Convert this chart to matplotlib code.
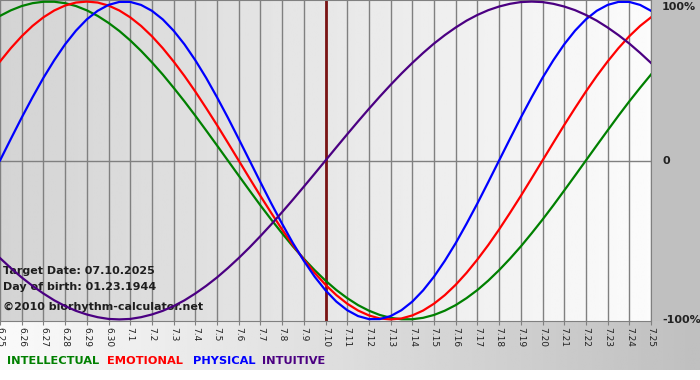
import numpy as np
import matplotlib
matplotlib.use("Agg")
import matplotlib.pyplot as plt
from matplotlib.patches import Rectangle

# date ticks 6.25 .. 7.25
days = list(range(31))
date_labels = ["6.25", "6.26", "6.27", "6.28", "6.29", "6.30"] + \
    ["7.%d" % d for d in range(1, 26)]

# curve values every half day (-1 .. 1)
half_days = np.arange(0, 30.5, 0.5)
physical = [0.0, 0.136, 0.270, 0.398, 0.520, 0.631, 0.731, 0.817, 0.888, 0.942,
            0.979, 0.998, 0.998, 0.979, 0.942, 0.888, 0.817, 0.731, 0.631, 0.520,
            0.398, 0.270, 0.136, 0.0, -0.136, -0.270, -0.398, -0.520, -0.631, -0.731,
            -0.817, -0.888, -0.942, -0.979, -0.998, -0.998, -0.979, -0.942, -0.888, -0.817,
            -0.731, -0.631, -0.520, -0.398, -0.270, -0.136, 0.0, 0.136, 0.270, 0.398,
            0.520, 0.631, 0.731, 0.817, 0.888, 0.942, 0.979, 0.998, 0.998, 0.979, 0.942]
emotional = [0.623, 0.707, 0.782, 0.847, 0.901, 0.944, 0.975, 0.994, 1.0, 0.994,
             0.975, 0.944, 0.901, 0.847, 0.782, 0.707, 0.623, 0.532, 0.434, 0.330,
             0.223, 0.112, 0.0, -0.112, -0.223, -0.330, -0.434, -0.532, -0.623, -0.707,
             -0.782, -0.847, -0.901, -0.944, -0.975, -0.994, -1.0, -0.994, -0.975, -0.944,
             -0.901, -0.847, -0.782, -0.707, -0.623, -0.532, -0.434, -0.330, -0.223, -0.112,
             0.0, 0.112, 0.223, 0.330, 0.434, 0.532, 0.623, 0.707, 0.782, 0.847, 0.901]
intellectual = [0.910, 0.945, 0.972, 0.990, 0.999, 0.999, 0.990, 0.972, 0.945, 0.910,
                0.866, 0.815, 0.756, 0.690, 0.618, 0.541, 0.458, 0.372, 0.282, 0.189,
                0.095, 0.0, -0.095, -0.189, -0.282, -0.372, -0.458, -0.541, -0.618, -0.690,
                -0.756, -0.815, -0.866, -0.910, -0.945, -0.972, -0.990, -0.999, -0.999, -0.990,
                -0.972, -0.945, -0.910, -0.866, -0.815, -0.756, -0.690, -0.618, -0.541, -0.458,
                -0.372, -0.282, -0.189, -0.095, 0.0, 0.095, 0.189, 0.282, 0.372, 0.458, 0.541]
intuitive = [-0.614, -0.677, -0.736, -0.789, -0.837, -0.880, -0.916, -0.946, -0.969, -0.986,
             -0.997, -1.0, -0.997, -0.986, -0.969, -0.946, -0.916, -0.880, -0.837, -0.789,
             -0.736, -0.677, -0.614, -0.547, -0.476, -0.402, -0.325, -0.246, -0.165, -0.083,
             0.0, 0.083, 0.165, 0.246, 0.325, 0.402, 0.476, 0.547, 0.614, 0.677,
             0.736, 0.789, 0.837, 0.880, 0.916, 0.946, 0.969, 0.986, 0.997, 1.0,
             0.997, 0.986, 0.969, 0.946, 0.916, 0.880, 0.837, 0.789, 0.736, 0.677, 0.614]

target_day = 15
info_lines = ["Target Date: 07.10.2025", "Day of birth: 01.23.1944",
              "\u00a92010 biorhythm-calculator.net"]
legend_names = ["INTELLECTUAL", "EMOTIONAL", "PHYSICAL", "INTUITIVE"]
legend_colors = ["#008000", "#ff0000", "#0000ff", "#4b0082"]

fig = plt.figure(figsize=(7, 3.8), dpi=100)
fig.patch.set_facecolor("white")

# background layer in pixel coords
bg = fig.add_axes([0, 0, 1, 1], zorder=0)
bg.imshow(np.linspace(0.98, 0.75, 256)[None, :], cmap="gray", vmin=0, vmax=1,
          extent=(0, 700, 370, 320), aspect="auto")
bg.add_patch(Rectangle((651, 0), 49, 321, color="#c0c0c0", lw=0))
bg.set_xlim(0, 700)
bg.set_ylim(380, 0)
bg.axis("off")

ax = fig.add_axes([0, 59 / 380, 651 / 700, 321 / 380], zorder=1)
ax.set_facecolor("none")
ax.imshow(np.linspace(0.83, 0.985, 256)[None, :], cmap="gray", vmin=0, vmax=1,
          extent=(0, 30, -1.01, 1.01), aspect="auto", zorder=0)
ax.set_xlim(0, 30)
ax.set_ylim(-1.01, 1.01)

ax.set_xticks(days)
ax.set_xticklabels(date_labels, rotation=-90, fontsize=6.5, color="#222222")
ax.grid(axis="x", color="#808080", lw=1, zorder=1)
ax.axhline(0, color="#808080", lw=1, zorder=1)
ax.tick_params(axis="x", length=3, color="#808080", pad=1)

ax.yaxis.tick_right()
ax.set_yticks([-1, 0, 1])
ylabs = ax.set_yticklabels(["-100%", "0", "100%"], fontsize=8, fontweight="bold",
                           color="#222222")
ylabs[2].set_va("top")
ax.tick_params(axis="y", length=0, pad=8)
for s in ax.spines.values():
    s.set_color("#808080")
ax.spines["left"].set_visible(False)

ax.axvline(target_day, color="#7a1414", lw=2, zorder=2)

# info text sits under the curves
for t, y in zip(info_lines, [271, 287, 307]):
    ax.text(3, y, t, transform=bg.transData, fontsize=8, fontweight="bold",
            color="#1e1e1e", va="center", ha="left", zorder=2.5)

ax.plot(half_days, intellectual, color=legend_colors[0], lw=1.6, zorder=3)
ax.plot(half_days, emotional, color=legend_colors[1], lw=1.6, zorder=3)
ax.plot(half_days, physical, color=legend_colors[2], lw=1.6, zorder=3)
ax.plot(half_days, intuitive, color=legend_colors[3], lw=1.6, zorder=3)

# legend words below the chart
for name, col, x in zip(legend_names, legend_colors, [7, 107, 193, 262]):
    bg.text(x, 361, name, fontsize=8.2, fontweight="bold", color=col,
            va="center", ha="left")

fig.savefig("out.png", dpi=100)
